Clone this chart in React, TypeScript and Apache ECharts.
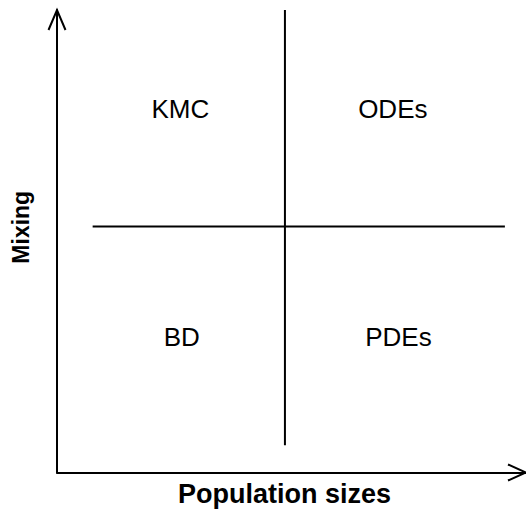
import React, { useEffect, useRef } from "react";
import * as echarts from "echarts";

const xAxisTitle = "Population sizes";
const yAxisTitle = "Mixing";
const axisRange = [0, 10];

// quadrant dividers in data units
const horizontalDivider = [[0.76, 5.32], [9.55, 5.32]];
const verticalDivider = [[4.86, 0.59], [4.86, 10]];

const quadrantNames = ["KMC", "ODEs", "BD", "PDEs"];
const quadrantX = [2.63, 7.16, 2.66, 7.28];
const quadrantY = [7.87, 7.87, 2.92, 2.92];

// arrow tips: [x, y, direction] (0 = right, 1 = up)
const arrowTips = [[10, 0, 0], [0, 10, 1]];

const FONT = "'Liberation Sans', Arial, Helvetica, sans-serif";
const INK = "#000";

export default function App() {
  const ref = useRef<HTMLDivElement>(null);
  useEffect(() => {
    if (!ref.current) return;
    const chart = echarts.init(ref.current, null, { renderer: "svg" });
    const baseAxis = {
      type: "value" as const,
      min: axisRange[0],
      max: axisRange[1],
      axisLine: { show: true, lineStyle: { color: INK, width: 2 } },
      axisTick: { show: false },
      axisLabel: { show: false },
      splitLine: { show: false },
      nameLocation: "middle" as const,
    };
    chart.setOption({
      animation: false,
      grid: { left: 57, right: 0, top: 10, bottom: 38.5 },
      xAxis: {
        ...baseAxis,
        name: xAxisTitle,
        nameGap: 21,
        nameTextStyle: {
          fontFamily: FONT,
          fontWeight: "bold",
          fontSize: 27,
          color: INK,
          verticalAlign: "middle",
          padding: [0, 14, 0, 0],
        },
      },
      yAxis: {
        ...baseAxis,
        name: yAxisTitle,
        nameGap: 36,
        nameTextStyle: {
          fontFamily: FONT,
          fontWeight: "bold",
          fontSize: 23,
          color: INK,
          verticalAlign: "middle",
          padding: [0, 0, 0, 28],
        },
      },
      series: [
        {
          type: "line",
          data: horizontalDivider,
          symbol: "none",
          lineStyle: { color: INK, width: 2 },
          silent: true,
        },
        {
          type: "line",
          data: verticalDivider,
          symbol: "none",
          lineStyle: { color: INK, width: 2 },
          silent: true,
        },
        {
          type: "custom",
          data: arrowTips,
          silent: true,
          renderItem: (params: any, api: any) => {
            const p = api.coord([api.value(0), api.value(1)]);
            const dir = api.value(2);
            const pts =
              dir === 0
                ? [[p[0] - 18, p[1] - 8], [p[0], p[1]], [p[0] - 18, p[1] + 8]]
                : [[p[0] - 8.5, p[1] + 20], [p[0], p[1]], [p[0] + 8.5, p[1] + 20]];
            return {
              type: "polyline",
              shape: { points: pts },
              style: { stroke: INK, lineWidth: 2, fill: "none" },
            };
          },
        },
        {
          type: "custom",
          silent: true,
          data: quadrantNames.map((n, i) => [quadrantX[i], quadrantY[i], i]),
          renderItem: (params: any, api: any) => {
            const p = api.coord([api.value(0), api.value(1)]);
            return {
              type: "text",
              x: p[0],
              y: p[1],
              style: {
                text: quadrantNames[api.value(2)],
                fontFamily: FONT,
                fontSize: 26,
                fill: INK,
                align: "center",
                verticalAlign: "middle",
              },
            };
          },
        },
      ],
    });
    return () => chart.dispose();
  }, []);
  return (
    <div
      ref={ref}
      style={{ position: "fixed", left: 0, top: 0, width: 526, height: 512, background: "#fff" }}
    />
  );
}
